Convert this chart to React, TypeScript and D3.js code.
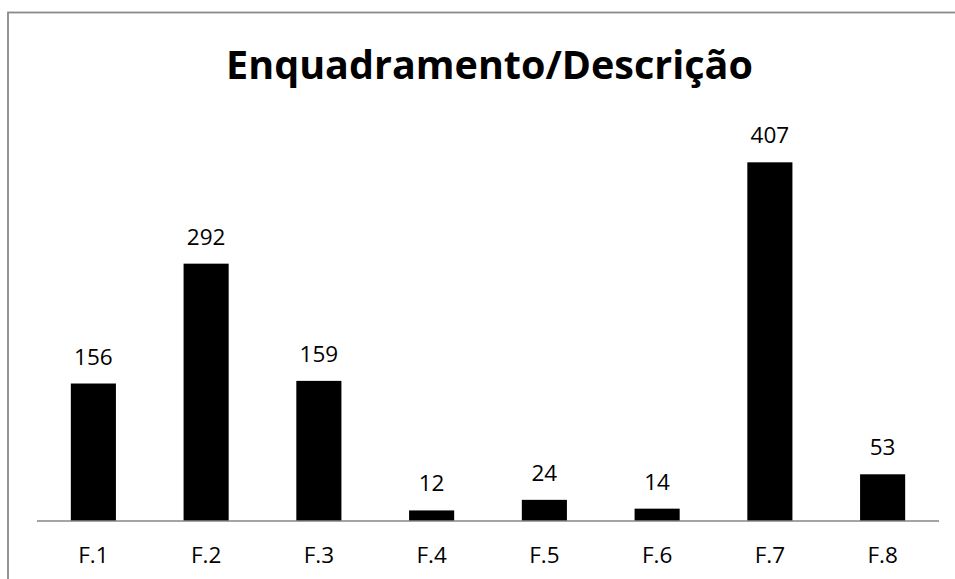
import React from "react";
import * as d3 from "d3";

const categories = ["F.1", "F.2", "F.3", "F.4", "F.5", "F.6", "F.7", "F.8"];
const values = [156, 292, 159, 12, 24, 14, 407, 53];
const title = "Enquadramento/Descrição";

const W = 955;
const H = 579;
const plotLeft = 37;
const plotRight = 939;
const baseY = 521;

export default function App() {
  const x = d3.scaleBand<string>().domain(categories).range([plotLeft, plotRight]).paddingInner(0.6).paddingOuter(0.3);
  const y = d3.scaleLinear().domain([0, 450]).range([baseY, baseY - 450 * 0.8813]);
  const font = "'Open Sans', Calibri, sans-serif";
  return (
    <svg width={W} height={H} style={{ position: "absolute", left: 0, top: 0, background: "#fff" }}>
      <rect x={8} y={12.5} width={W + 20} height={H + 20} fill="#fff" stroke="#8a8a8a" strokeWidth={1.8} />
      <text x={489.5} y={79} textAnchor="middle" fontFamily={font} fontWeight="bold" fontSize={39.5} fill="#000">
        {title}
      </text>
      {values.map((v, i) => {
        const c = categories[i];
        const bx = x(c)!;
        return (
          <g key={c}>
            <rect x={bx} y={y(v)} width={x.bandwidth()} height={baseY - y(v)} fill="#000" />
            <text x={bx + x.bandwidth() / 2} y={y(v) - 19} textAnchor="middle" fontFamily={font} fontSize={22.5} fill="#000">
              {v}
            </text>
          </g>
        );
      })}
      <line x1={plotLeft} x2={plotRight} y1={baseY} y2={baseY} stroke="#868686" strokeWidth={1.3} />
      {categories.map((c) => (
        <text key={c} x={x(c)! + x.bandwidth() / 2} y={563} textAnchor="middle" fontFamily={font} fontSize={22.5} fill="#000">
          {c}
        </text>
      ))}
    </svg>
  );
}
